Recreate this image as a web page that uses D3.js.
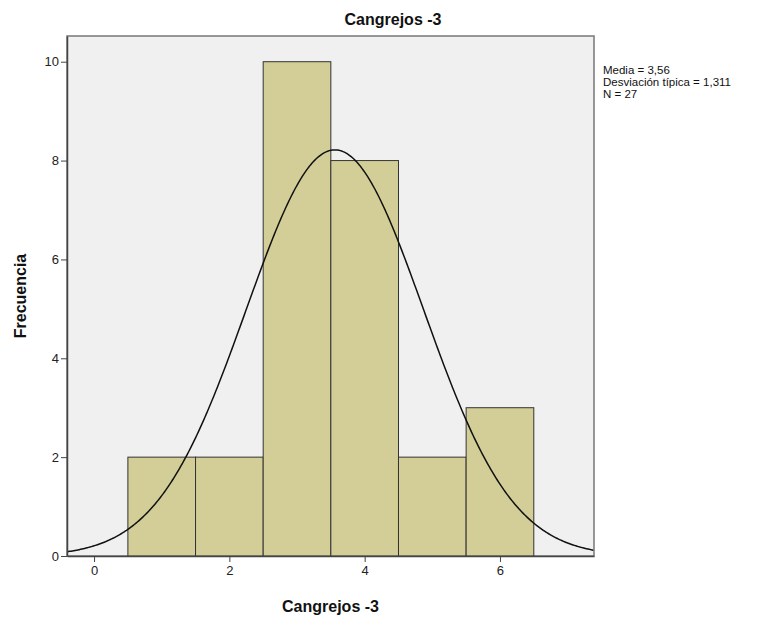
<!DOCTYPE html>
<meta charset="utf-8">
<head>
<title>Cangrejos -3</title>
<script src="https://cdn.jsdelivr.net/npm/d3@7"></script>
<style>
body { margin: 0; background: #fff; }
svg { font-family: "Liberation Sans", Arial, sans-serif; }
.tick text { font-size: 13px; fill: #222; }
</style>
</head>
<body>
<script>
// Histogram data
const binStarts = [0.5, 1.5, 2.5, 3.5, 4.5, 5.5];
const binWidth = 1;
const counts = [2, 2, 10, 8, 2, 3];
const xTicks = [0, 2, 4, 6];
const yTicks = [0, 2, 4, 6, 8, 10];
const mean = 3.56;
const sd = 1.311;
const n = 27;
const statLines = ["Media = 3,56", "Desviación típica = 1,311", "N = 27"];

const W = 759, H = 619;
const margin = {top: 36, right: 165, bottom: 63, left: 67};
const width = W - margin.left - margin.right;
const height = H - margin.top - margin.bottom;

const svg = d3.select("body").append("svg")
    .attr("width", W)
    .attr("height", H);

const x = d3.scaleLinear().domain([-0.4, 7.39]).range([0, width]);
const y = d3.scaleLinear().domain([0, 10.52]).range([height, 0]);

const g = svg.append("g")
    .attr("transform", `translate(${margin.left},${margin.top})`);

// plot background
g.append("rect")
    .attr("width", width)
    .attr("height", height)
    .attr("fill", "#f0f0f0")
    .attr("stroke", "#777")
    .attr("stroke-width", 1.5);

g.append("clipPath").attr("id", "clip")
  .append("rect").attr("width", width).attr("height", height);

// bars
g.selectAll(".bar")
    .data(counts)
    .enter().append("rect")
    .attr("class", "bar")
    .attr("x", (d, i) => x(binStarts[i]))
    .attr("width", (d, i) => x(binStarts[i] + binWidth) - x(binStarts[i]))
    .attr("y", d => y(d))
    .attr("height", d => y(0) - y(d))
    .attr("fill", "#d3ce97")
    .attr("stroke", "#333")
    .attr("stroke-width", 1);

// normal curve
const pdf = v => n * binWidth * Math.exp(-0.5 * ((v - mean) / sd) ** 2) / (sd * Math.sqrt(2 * Math.PI));
const curvePts = d3.range(-0.4, 7.4, 0.02).map(v => [v, pdf(v)]);
g.append("path")
    .datum(curvePts)
    .attr("clip-path", "url(#clip)")
    .attr("fill", "none")
    .attr("stroke", "#111")
    .attr("stroke-width", 1.5)
    .attr("d", d3.line().x(d => x(d[0])).y(d => y(d[1])));

// axes
const xAxis = g.append("g")
    .attr("transform", `translate(0,${height})`)
    .call(d3.axisBottom(x).tickValues(xTicks).tickSizeInner(6).tickSizeOuter(0).tickPadding(4).tickFormat(d3.format("d")));
xAxis.select(".domain").attr("stroke", "#444").attr("stroke-width", 1.5);
xAxis.selectAll(".tick line").attr("stroke", "#444");

const yAxis = g.append("g")
    .call(d3.axisLeft(y).tickValues(yTicks).tickSizeInner(6).tickSizeOuter(0).tickPadding(2).tickFormat(d3.format("d")));
yAxis.select(".domain").attr("stroke", "#444").attr("stroke-width", 1.5);
yAxis.selectAll(".tick line").attr("stroke", "#444");

// title
svg.append("text")
    .attr("x", 393)
    .attr("y", 25)
    .attr("text-anchor", "middle")
    .attr("font-size", "16px")
    .attr("font-weight", "bold")
    .attr("fill", "#111")
    .text("Cangrejos -3");

// axis labels
svg.append("text")
    .attr("x", margin.left + width / 2)
    .attr("y", 612)
    .attr("text-anchor", "middle")
    .attr("font-size", "16px")
    .attr("font-weight", "bold")
    .attr("fill", "#111")
    .text("Cangrejos -3");

svg.append("text")
    .attr("transform", "translate(26,296) rotate(-90)")
    .attr("text-anchor", "middle")
    .attr("font-size", "16px")
    .attr("font-weight", "bold")
    .attr("fill", "#111")
    .text("Frecuencia");

// stats
svg.append("g").selectAll("text")
    .data(statLines)
    .enter().append("text")
    .attr("x", 603)
    .attr("y", (d, i) => 74 + i * 12)
    .attr("font-size", "11.5px")
    .attr("fill", "#111")
    .text(d => d);
</script>
</body>
</html>
